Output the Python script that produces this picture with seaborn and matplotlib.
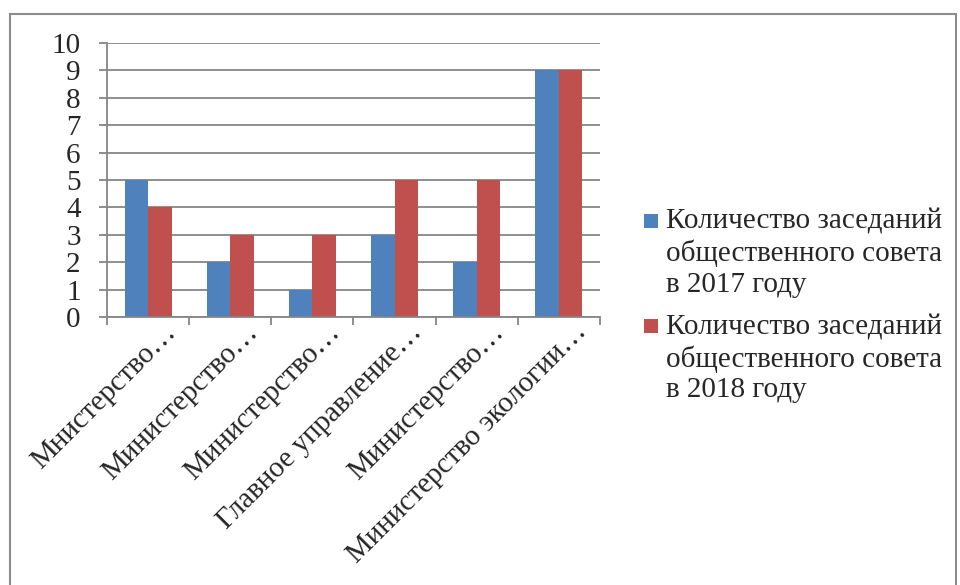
import pandas as pd
import matplotlib.pyplot as plt
import matplotlib.transforms as mtransforms
from matplotlib.patches import Rectangle
from matplotlib.legend_handler import HandlerPatch
import seaborn as sns

sns.set_style("white")
plt.rcParams['font.family'] = ['Liberation Serif', 'DejaVu Serif']

# Data
categories = ["Мнистерство…", "Министерство…", "Министерство…",
              "Главное управление…", "Министерство…", "Министерство экологии…"]
series_names = ["Количество заседаний\nобщественного совета\nв 2017 году",
                "Количество заседаний\nобщественного совета\nв 2018 году"]
values_2017 = [5, 2, 1, 3, 2, 9]
values_2018 = [4, 3, 3, 5, 5, 9]
y_ticks = list(range(0, 11))

rows = []
for i, v in enumerate(values_2017):
    rows.append({'idx': i, 'series': series_names[0], 'value': v})
for i, v in enumerate(values_2018):
    rows.append({'idx': i, 'series': series_names[1], 'value': v})
df = pd.DataFrame(rows)

grid_col = '#868686'
fs = 21
fig = plt.figure(figsize=(9.6, 5.85), dpi=100)
ax = fig.add_axes([107 / 960, 1 - 317 / 585, (600 - 107) / 960, (317 - 43) / 585])

sns.barplot(data=df, x='idx', y='value', hue='series',
            palette=['#4F81BD', '#C0504D'], width=0.57, saturation=1,
            linewidth=0, ax=ax, zorder=2)

handles, labels = ax.get_legend_handles_labels()
ax.get_legend().remove()

ax.set_ylim(0, 10)
ax.set_xlim(-0.5, len(categories) - 0.5)
ax.set_yticks(y_ticks)
ax.set_xlabel("")
ax.set_ylabel("")
ax.yaxis.grid(True, color=grid_col, lw=1.3)
ax.set_axisbelow(True)
for s in ['top', 'right']:
    ax.spines[s].set_visible(False)
for s in ['left', 'bottom']:
    ax.spines[s].set_color(grid_col)
    ax.spines[s].set_linewidth(1.3)

ax.tick_params(axis='y', direction='out', length=6, width=1.3, color=grid_col,
               labelsize=fs, pad=13, left=True)
ax.set_xticks(range(len(categories)))
ax.set_xticks([i - 0.5 for i in range(len(categories) + 1)], minor=True)
ax.tick_params(axis='x', which='major', length=0, pad=8, labelsize=fs)
ax.tick_params(axis='x', which='minor', direction='out', length=6, width=1.3,
               color=grid_col, bottom=True)
ax.set_xticklabels(categories, rotation=45, ha='right', va='center',
                   rotation_mode='anchor')
offset = mtransforms.ScaledTranslation(24 / 100, 0, fig.dpi_scale_trans)
for lab in ax.get_xticklabels():
    lab.set_transform(lab.get_transform() + offset)


# square legend key sitting next to the first line of the label
def top_square(legend, orig_handle, xdescent, ydescent, width, height, fontsize):
    s = 0.48 * fontsize
    return Rectangle((-xdescent + width - s, -ydescent + height - s + 0.22 * fontsize), s, s)


leg = fig.legend(handles, labels, loc='upper left', bbox_to_anchor=(643 / 960, 1 - 209 / 585),
                 frameon=False, fontsize=fs, handlelength=0.5, handleheight=3.3,
                 handletextpad=0.3, labelspacing=0.55, borderpad=0, borderaxespad=0,
                 handler_map={h: HandlerPatch(patch_func=top_square) for h in handles})
for t in leg.get_texts():
    t.set_linespacing(1.23)

fig.patches.append(Rectangle((10 / 960, -0.05), 946 / 960, 1.05 - 14 / 585,
                             transform=fig.transFigure, fill=False,
                             edgecolor='#8c8c8c', lw=1.5))

plt.savefig("out.png", dpi=100)
